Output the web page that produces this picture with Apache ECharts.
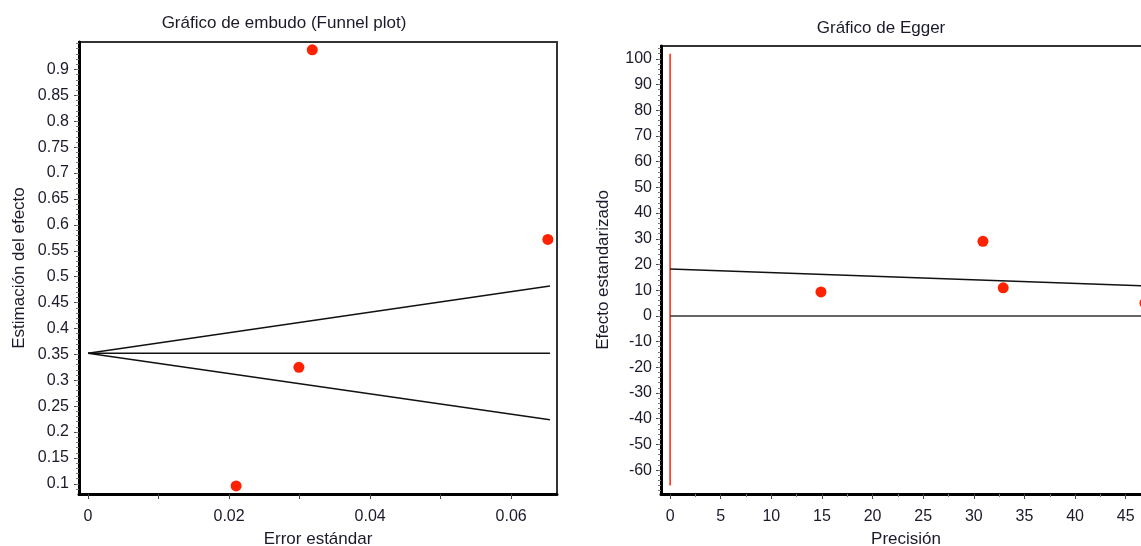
<!DOCTYPE html>
<html><head><meta charset="utf-8">
<script src="https://cdn.jsdelivr.net/npm/echarts@6/dist/echarts.min.js"></script>
<style>html,body{margin:0;padding:0;background:#fff}#c{width:1141px;height:546px}</style>
</head><body><div id="c"></div>
<script>
// ---- Funnel plot data ----
const funnelSE  = [0.0318, 0.0652, 0.0299, 0.0210];
const funnelEst = [0.938, 0.572, 0.325, 0.096];
const pooledEst = 0.352;
const funnelSEMax = 0.0655;
const funnelUpperEnd = 0.482;
const funnelLowerEnd = 0.224;
// ---- Egger plot data ----
const eggerPrec = [14.9, 30.9, 32.9, 46.9];
const eggerStd  = [9.3, 29.0, 10.9, 5.0];
const eggerLineX = [0, 47.5];
const eggerLineY = [18.2, 11.6];
const eggerCI = [-66, 102];
// ---- Tick labels ----
const funnelXTicks = [0, 0.02, 0.04, 0.06];
const funnelXMinor = [0, 0.01, 0.02, 0.03, 0.04, 0.05, 0.06];
const funnelYTicks = [0.1, 0.15, 0.2, 0.25, 0.3, 0.35, 0.4, 0.45, 0.5, 0.55, 0.6, 0.65, 0.7, 0.75, 0.8, 0.85, 0.9];
const eggerXTicks = [0, 5, 10, 15, 20, 25, 30, 35, 40, 45];
const eggerXMinor = [2.5, 7.5, 12.5, 17.5, 22.5, 27.5, 32.5, 37.5, 42.5, 47.5];
const eggerYTicks = [-60, -50, -40, -30, -20, -10, 0, 10, 20, 30, 40, 50, 60, 70, 80, 90, 100];

const fYMinor = []; for (let i = 8; i <= 95; i++) fYMinor.push(i / 100);
const eYMinor = []; for (let v = -68; v <= 104; v += 2) eYMinor.push(v);

const FONT = 'Liberation Sans, Arial, sans-serif';
const TXT = '#1a1a2a';
const TICK_FS = 16, NAME_FS = 17;
const chart = echarts.init(document.getElementById('c'));

function majorAxis(extra) {
  return Object.assign({
    type: 'value', splitLine: { show: false },
    axisLine: { show: true, onZero: false, lineStyle: { color: '#000', width: 3 } },
    axisTick: { show: true, length: 5, lineStyle: { color: '#444', width: 1 } },
    axisLabel: { show: true, color: TXT, fontSize: TICK_FS, fontFamily: FONT, margin: 8 },
    nameTextStyle: { color: TXT, fontSize: NAME_FS, fontFamily: FONT },
    nameLocation: 'middle'
  }, extra);
}
function minorAxis(extra, vals) {
  return Object.assign({
    type: 'value', splitLine: { show: false },
    axisLine: { show: false, onZero: false },
    axisTick: { show: true, length: 3, customValues: vals, lineStyle: { color: '#777', width: 1 } },
    axisLabel: { show: false }
  }, extra);
}
function lbl(vals, margin) {
  return { show: true, customValues: vals, color: TXT, fontSize: TICK_FS, fontFamily: FONT, margin: margin };
}

chart.setOption({
  animation: false,
  grid: [
    { left: 79, top: 42, width: 478, height: 452, show: true, borderColor: '#333', borderWidth: 2, containLabel: false, outerBoundsMode: 'none' },
    { left: 661, top: 46, width: 490, height: 448, show: true, borderColor: '#333', borderWidth: 2, containLabel: false, outerBoundsMode: 'none' }
  ],
  xAxis: [
    majorAxis({ gridIndex: 0, min: -0.00128, max: 0.0665, name: 'Error estándar', nameGap: 37,
      axisTick: { show: true, length: 5, customValues: funnelXMinor, lineStyle: { color: '#444' } },
      axisLabel: lbl(funnelXTicks, 15) }),
    majorAxis({ gridIndex: 1, min: -0.9, max: 47.5, name: 'Precisión', nameGap: 37,
      axisTick: { show: true, length: 5, customValues: eggerXTicks, lineStyle: { color: '#444' } },
      axisLabel: lbl(eggerXTicks, 15) }),
    minorAxis({ gridIndex: 1, min: -0.9, max: 47.5, position: 'bottom' }, eggerXMinor)
  ],
  yAxis: [
    majorAxis({ gridIndex: 0, min: 0.0805, max: 0.953, name: 'Estimación del efecto', nameGap: 51,
      axisTick: { show: true, length: 5, customValues: funnelYTicks, lineStyle: { color: '#444' } },
      axisLabel: lbl(funnelYTicks, 10) }),
    minorAxis({ gridIndex: 0, min: 0.0805, max: 0.953, position: 'left' }, fYMinor),
    majorAxis({ gridIndex: 1, min: -69.3, max: 105, name: 'Efecto estandarizado', nameGap: 49,
      axisTick: { show: true, length: 5, customValues: eggerYTicks, lineStyle: { color: '#444' } },
      axisLabel: lbl(eggerYTicks, 9) }),
    minorAxis({ gridIndex: 1, min: -69.3, max: 105, position: 'left' }, eYMinor)
  ],
  graphic: [
    { type: 'text', x: 284, y: 23, style: { text: 'Gráfico de embudo (Funnel plot)', fill: TXT, font: NAME_FS + 'px ' + FONT, textAlign: 'center', textVerticalAlign: 'middle' } },
    { type: 'text', x: 881, y: 28, style: { text: 'Gráfico de Egger', fill: TXT, font: NAME_FS + 'px ' + FONT, textAlign: 'center', textVerticalAlign: 'middle' } }
  ],
  series: [
    { type: 'line', xAxisIndex: 0, yAxisIndex: 0, symbol: 'none', lineStyle: { color: '#111', width: 1.5 },
      data: [[0, pooledEst], [funnelSEMax, pooledEst]] },
    { type: 'line', xAxisIndex: 0, yAxisIndex: 0, symbol: 'none', lineStyle: { color: '#111', width: 1.5 },
      data: [[0, pooledEst], [funnelSEMax, funnelUpperEnd]] },
    { type: 'line', xAxisIndex: 0, yAxisIndex: 0, symbol: 'none', lineStyle: { color: '#111', width: 1.5 },
      data: [[0, pooledEst], [funnelSEMax, funnelLowerEnd]] },
    { type: 'scatter', xAxisIndex: 0, yAxisIndex: 0, symbol: 'circle', symbolSize: 11,
      itemStyle: { color: '#ff2200', opacity: 1 }, data: funnelSE.map((s, i) => [s, funnelEst[i]]) },
    { type: 'line', xAxisIndex: 1, yAxisIndex: 2, symbol: 'none', lineStyle: { color: '#ff2200', width: 1.5 },
      data: [[0, eggerCI[0]], [0, eggerCI[1]]] },
    { type: 'line', xAxisIndex: 1, yAxisIndex: 2, symbol: 'none', lineStyle: { color: '#333', width: 1.5 },
      data: [[eggerLineX[0], 0], [eggerLineX[1], 0]] },
    { type: 'line', xAxisIndex: 1, yAxisIndex: 2, symbol: 'none', lineStyle: { color: '#111', width: 1.5 },
      data: eggerLineX.map((x, i) => [x, eggerLineY[i]]) },
    { type: 'scatter', xAxisIndex: 1, yAxisIndex: 2, symbol: 'circle', symbolSize: 11, clip: false,
      itemStyle: { color: '#ff2200', opacity: 1 }, data: eggerPrec.map((p, i) => [p, eggerStd[i]]) }
  ]
});
</script></body></html>
